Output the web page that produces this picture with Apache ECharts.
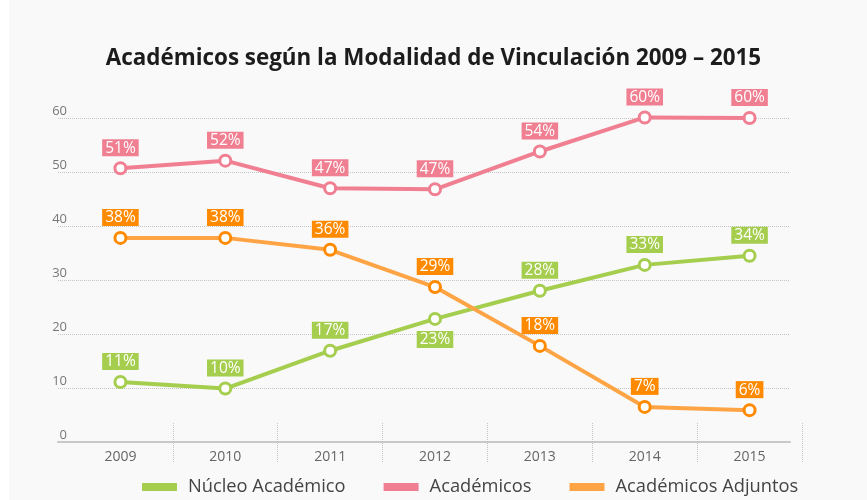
<!DOCTYPE html>
<html>
<head>
<meta charset="utf-8">
<script src="https://cdn.jsdelivr.net/npm/echarts@6/dist/echarts.min.js"></script>
<style>
  html, body { margin: 0; padding: 0; background: #fff; }
  #chart { width: 867px; height: 500px; }
</style>
</head>
<body>
<div id="chart"></div>
<script>
// años del eje x
const years = ['2009', '2010', '2011', '2012', '2013', '2014', '2015']

// valores (posición de los puntos)
const nucleoValues = [11.1, 9.9, 16.9, 22.8, 28.0, 32.8, 34.5]
const academicosValues = [50.7, 52.1, 47.0, 46.8, 53.8, 60.1, 60.0]
const adjuntosValues = [37.8, 37.8, 35.6, 28.7, 17.8, 6.5, 5.9]

// etiquetas mostradas sobre cada punto
const nucleoLabels = ['11%', '10%', '17%', '23%', '28%', '33%', '34%']
const academicosLabels = ['51%', '52%', '47%', '47%', '54%', '60%', '60%']
const adjuntosLabels = ['38%', '38%', '36%', '29%', '18%', '7%', '6%']

const yTicks = [0, 10, 20, 30, 40, 50, 60]

const FONT = 'Open Sans'

const chart = echarts.init(document.getElementById('chart'))

function makeSeries(name, values, labels, lineColor, markColor, labelBg, belowIdx) {
  return {
    name: name,
    type: 'line',
    xAxisIndex: 1,
    yAxisIndex: 1,
    clip: false,
    data: values.map((v, i) => {
      const item = { value: v }
      if (belowIdx.indexOf(i) >= 0) {
        item.label = { position: 'bottom' }
      }
      return item
    }),
    symbol: 'circle',
    symbolSize: 11,
    lineStyle: { color: lineColor, width: 4 },
    itemStyle: { color: '#fff', borderColor: markColor, borderWidth: 3 },
    label: {
      show: true,
      position: 'top',
      distance: 5,
      formatter: (p) => labels[p.dataIndex],
      color: '#fff',
      fontFamily: FONT,
      fontSize: 15.5,
      lineHeight: 16,
      backgroundColor: labelBg,
      padding: [1, 3, 0, 3],
    },
    emphasis: { disabled: true },
    animation: false,
  }
}

const option = {
  backgroundColor: '#f9f9f9',
  graphic: [
    { type: 'rect', shape: { x: 0, y: 0, width: 9, height: 500 }, style: { fill: '#fff' }, silent: true },
  ],
  title: {
    text: 'Académicos según la Modalidad de Vinculación 2009 – 2015',
    left: 'center',
    top: 43,
    textStyle: { fontFamily: FONT, fontSize: 22.4, fontWeight: 'bold', color: '#1c1c1c' },
  },
  legend: {
    left: 142,
    top: 478,
    padding: 0,
    icon: 'rect',
    itemWidth: 35,
    itemHeight: 8,
    itemGap: 38,
    selectedMode: false,
    textStyle: { fontFamily: FONT, fontSize: 18.3, color: '#444', padding: [0, 0, 0, 6] },
    data: [
      { name: 'Núcleo Académico', itemStyle: { color: '#a5cd4e', borderWidth: 0 } },
      { name: 'Académicos', itemStyle: { color: '#f07f92', borderWidth: 0 } },
      { name: 'Académicos Adjuntos', itemStyle: { color: '#ffa445', borderWidth: 0 } },
    ],
  },
  grid: [
    { left: 58, right: 77, top: 118, bottom: 58 },
    { left: 68, right: 65, top: 118, bottom: 58 },
  ],
  xAxis: [
    {
      type: 'value',
      gridIndex: 0,
      min: 0,
      max: 1,
      axisLine: { show: true, lineStyle: { color: '#c8c8c8', width: 2 } },
      axisTick: { show: false },
      axisLabel: { show: false },
      splitLine: { show: false },
    },
    {
      type: 'category',
      gridIndex: 1,
      data: years,
      boundaryGap: true,
      offset: -19,
      axisLine: { show: false },
      axisTick: {
        show: true,
        length: 39,
        interval: (i) => i !== 0,
        lineStyle: { color: '#c4c4c4', type: 'dotted', width: 1 },
      },
      axisLabel: { margin: 27, interval: 0, fontFamily: FONT, fontSize: 14, color: '#666' },
    },
  ],
  yAxis: [
    {
      type: 'value',
      gridIndex: 0,
      min: 0,
      max: 60,
      interval: 10,
      axisLine: { show: false },
      axisTick: { show: false },
      axisLabel: {
        margin: -9,
        verticalAlign: 'bottom',
        fontFamily: FONT,
        fontSize: 13,
        color: '#777',
        formatter: (v) => (yTicks.indexOf(v) >= 0 ? String(v) : ''),
      },
      splitLine: { show: true, lineStyle: { color: '#c4c4c4', type: 'dotted', width: 1 } },
    },
    {
      type: 'value',
      gridIndex: 1,
      min: 0,
      max: 60,
      show: false,
    },
  ],
  series: [
    makeSeries('Núcleo Académico', nucleoValues, nucleoLabels, '#a5cd4e', '#a5cd4e', '#a5cd4e', [3]),
    makeSeries('Académicos', academicosValues, academicosLabels, '#f07f92', '#f07f92', '#f07f92', []),
    makeSeries('Académicos Adjuntos', adjuntosValues, adjuntosLabels, '#ffa445', '#ff8a00', '#ff8a00', []),
  ],
}

chart.setOption(option)
</script>
</body>
</html>
